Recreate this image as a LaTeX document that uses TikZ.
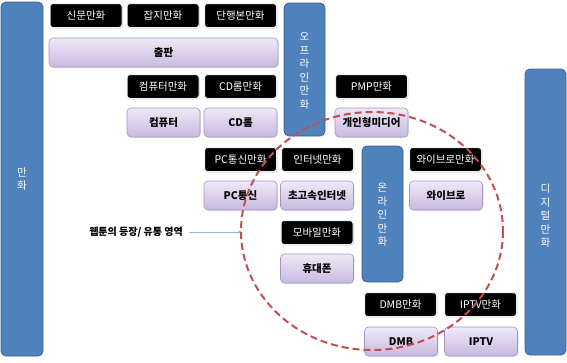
\documentclass[tikz,border=0pt]{standalone}
\usepackage{fontspec}
\setmainfont{Noto Sans CJK KR}
\usetikzlibrary{shadows,arrows.meta}
\definecolor{barblue}{HTML}{4F81BD}
\definecolor{barline}{HTML}{3A6495}
\definecolor{purtop}{HTML}{EFE9F7}
\definecolor{purbot}{HTML}{C9B8E0}
\definecolor{purline}{HTML}{A593C6}
\definecolor{circred}{HTML}{C0504D}
\definecolor{arrblue}{HTML}{8EB4E3}
\tikzset{
  blk/.style={fill=black, draw=white!88!gray, line width=1pt, rounded corners=3pt,
    text=white, minimum width=72pt, minimum height=24pt, inner sep=0pt,
    font=\fontsize{10.5}{12}\selectfont,
    drop shadow={shadow xshift=1pt, shadow yshift=-1pt, opacity=0.25}},
  pur/.style={top color=purtop, bottom color=purbot, draw=purline, line width=0.6pt,
    rounded corners=4pt, text=black, minimum width=73pt, minimum height=29pt,
    inner sep=0pt, font=\fontsize{10.5}{12}\selectfont\bfseries,
    drop shadow={shadow xshift=1pt, shadow yshift=-1pt, opacity=0.2}},
  bar/.style={fill=barblue, draw=barline, line width=0.8pt, rounded corners=5pt,
    text=white, minimum width=41pt, inner sep=0pt},
  vtext/.style={text=white, align=center, inner sep=0pt,
    font=\fontsize{10.5}{13.5}\selectfont},
}
\begin{document}
\begin{tikzpicture}[x=1pt,y=-1pt]
\useasboundingbox (0,0) rectangle (567,362);
% blue bars
\node[bar, minimum width=42pt, minimum height=354pt] (manhwa) at (22,179) {};
\node[vtext] (manhwatext) at (22,179) {만\\화};
\node[bar, minimum height=133pt] (offline) at (304.5,69.5) {};
\node[vtext] (offlinetext) at (304.5,71) {오\\프\\라\\인\\만\\화};
\node[bar, minimum height=136pt] (online) at (382.5,214) {};
\node[vtext] (onlinetext) at (382.5,215) {온\\라\\인\\만\\화};
\node[bar, minimum height=286pt] (digital) at (545.5,212) {};
\node[vtext] (digitaltext) at (545.5,216) {디\\지\\털\\만\\화};
% row 1
\node[blk] (sinmun) at (86,15.5) {신문만화};
\node[blk] (japji) at (163,15.5) {잡지만화};
\node[blk] (danhaeng) at (240.5,15.5) {단행본만화};
\node[pur, minimum width=229pt] (chulpan) at (163.5,52.5) {출판};
% row 2
\node[blk] (compman) at (163,86.5) {컴퓨터만화};
\node[blk] (cdman) at (240.5,86.5) {CD롬만화};
\node[blk] (pmpman) at (371.5,86.5) {PMP만화};
\node[pur] (comp) at (163.5,122.5) {컴퓨터};
\node[pur] (cdrom) at (240.5,122.5) {CD롬};
\node[pur] (gaein) at (371.5,122.5) {개인형미디어};
% row 3
\node[blk] (pcman) at (240.5,159.5) {PC통신만화};
\node[blk] (netman) at (317.5,159.5) {인터넷만화};
\node[blk] (wibroman) at (445.5,159.5) {와이브로만화};
\node[pur] (pc) at (240.5,195.5) {PC통신};
\node[pur] (chogo) at (317,195.5) {초고속인터넷};
\node[pur] (wibro) at (446,195.5) {와이브로};
% row 4
\node[blk] (mobileman) at (317,232.5) {모바일만화};
\node[pur] (hyudae) at (317,268.5) {휴대폰};
\node[blk] (dmbman) at (400.5,304.5) {DMB만화};
\node[blk] (iptvman) at (480.5,304.5) {IPTV만화};
\node[pur] (dmb) at (401,341.5) {DMB};
\node[pur] (iptv) at (481,341.5) {IPTV};
% label and arrow
\node[font=\fontsize{10}{12}\selectfont\bfseries, anchor=east, inner sep=0pt] (label) at (183,232) {웹툰의 등장/ 유통 영역};
\coordinate (circleleft) at (242,232);
\draw[arrblue, line width=0.7pt, -{Stealth[length=4pt,width=3pt]}] ([xshift=6pt]label.east) -- (circleleft);
% dashed circle
\draw[circred, line width=2pt, dash pattern=on 7pt off 4pt] (372,231) ellipse [x radius=131, y radius=119];
\end{tikzpicture}
\end{document}
